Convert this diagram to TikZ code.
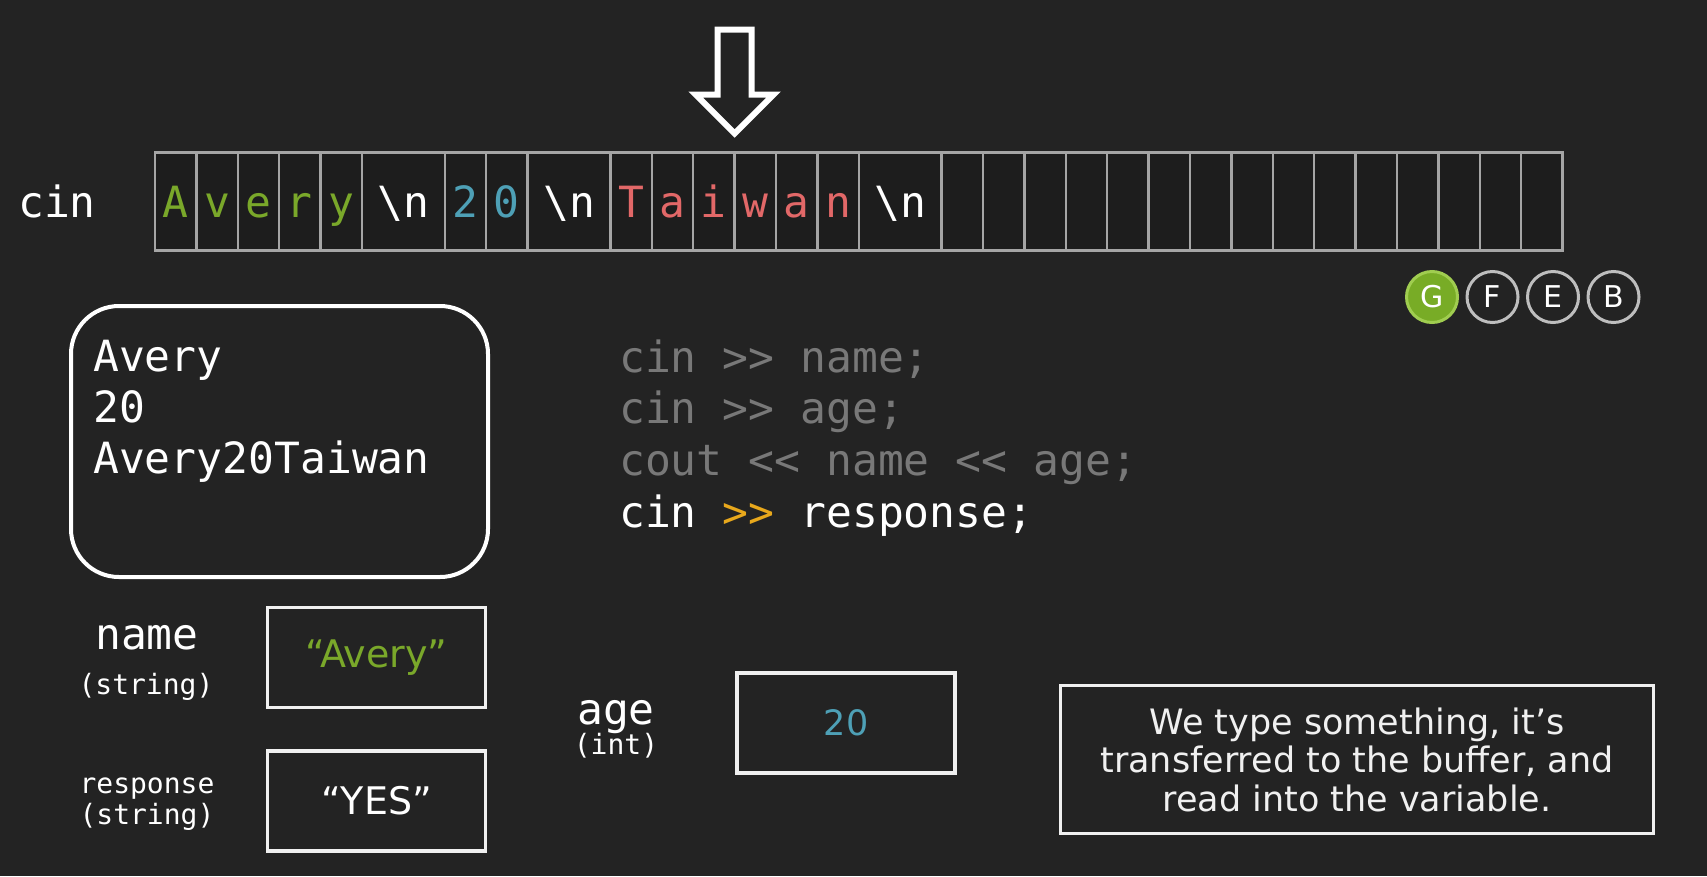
\documentclass[tikz,border=0pt]{standalone}
\usepackage{fontspec}
\usepackage{xcolor}
\usetikzlibrary{positioning}

\newfontfamily\codefont{DejaVu Sans Mono}
\newfontfamily\uifont{DejaVu Sans}
\newcommand{\bigmono}{\codefont\fontsize{43pt}{51pt}\selectfont}
\newcommand{\smallmono}{\codefont\fontsize{28pt}{30pt}\selectfont}
\newcommand{\boxsans}{\uifont\fontsize{38pt}{40pt}\selectfont}
\newcommand{\notesans}{\uifont\fontsize{35pt}{38.5pt}\selectfont}
\newcommand{\bsn}{\textbackslash n}

\definecolor{bg}{RGB}{35,35,35}
\definecolor{cellfill}{RGB}{29,29,29}
\definecolor{cellgray}{RGB}{165,165,165}
\definecolor{codegreen}{RGB}{122,168,42}
\definecolor{codeblue}{RGB}{78,160,182}
\definecolor{codered}{RGB}{226,104,104}
\definecolor{codegray}{RGB}{120,120,120}
\definecolor{arrowgold}{RGB}{232,168,28}
\definecolor{boxwhite}{RGB}{240,240,240}
\definecolor{badgegreen}{RGB}{120,172,38}
\definecolor{badgeedge}{RGB}{160,205,80}
\definecolor{badgegray}{RGB}{190,190,190}

\begin{document}
\begin{tikzpicture}[x=1pt, y=-1pt,
  cell/.style={draw=cellgray, fill=cellfill, line width=2.5pt, minimum width=41.4pt, minimum height=98pt, inner sep=0pt, outer sep=0pt, text height=32pt, text depth=0pt, font=\bigmono},
  varbox/.style={draw=boxwhite, line width=3.5pt, minimum width=218pt, minimum height=100pt, inner sep=0pt, font=\boxsans},
  mono/.style={inner sep=0pt, font=\bigmono, text=white},
  small/.style={inner sep=0pt, font=\smallmono, text=white},
  badge/.style={circle, draw=badgegray, line width=3pt, minimum size=51pt, inner sep=0pt, font=\uifont\fontsize{30pt}{30pt}\selectfont, text=white},
  node distance=6.5pt]
\fill[bg] (0,0) rectangle (1707,876);
\useasboundingbox (0,0) rectangle (1707,876);

% Buffer
\node[mono, anchor=base west] (cinlbl) at (18,217) {cin};
\coordinate (c0) at (155,201.5);
\foreach \w/\ch/\col [count=\i from 1, remember=\i as \j (initially 0)] in {1/A/codegreen, 1/v/codegreen, 1/e/codegreen, 1/r/codegreen, 1/y/codegreen, 2/\bsn/white, 1/2/codeblue, 1/0/codeblue, 2/\bsn/white, 1/T/codered, 1/a/codered, 1/i/codered, 1/w/codered, 1/a/codered, 1/n/codered, 2/\bsn/white}
  \node[cell, minimum width=\w*41.4pt, text=\col, right=0pt of c\j] (c\i) {\ch};
\foreach \i [remember=\i as \j (initially 16)] in {17,...,31}
  \node[cell, right=0pt of c\j] (c\i) {};

% Read position
\begin{scope}[shift={(c12.north east)}]
\draw[white, line width=6pt, line join=miter] (-17,-123) -- (17,-123) -- (17,-58) -- (39,-58) -- (0,-19) -- (-39,-58) -- (-17,-58) -- cycle;
\end{scope}

% Badges
\node[badge, fill=badgegreen, draw=badgeedge] (gbadge) at (1432,297) {G};
\node[badge] (fbadge) [right=of gbadge] {F};
\node[badge] (ebadge) [right=of fbadge] {E};
\node[badge] (bbadge) [right=of ebadge] {B};

% Console
\node[draw=white, line width=4pt, rounded corners=48pt, minimum width=417pt, minimum height=271pt, anchor=north west] (console) at (69,304) {};
\node[mono, anchor=base west] (out1) at (93,371) {Avery};
\node[mono, anchor=base west] (out2) at (93,422) {20};
\node[mono, anchor=base west] (out3) at (93,473) {Avery20Taiwan};

% Code
\foreach \txt [count=\i from 0] in {cin >{}> name;, cin >{}> age;, cout <{}< name <{}< age;}
  \node[mono, text=codegray, anchor=base west] (code\i) at (619,{372+51.7*\i}) {\txt};
\node[mono, anchor=base west] (code3) at (619,527) {cin \textcolor{arrowgold}{>{}>} response;};

% Variables
\node[small, font=\bigmono, anchor=base] (namelbl) at (147,649) {name};
\node[small, anchor=base] (nametype) at (146,694) {(string)};
\node[varbox, text=codegreen] (namebox) at (376.5,657.5) {“Avery”};

\node[small, anchor=base] (resplbl) at (147,793) {response};
\node[small, anchor=base] (resptype) at (147,824) {(string)};
\node[varbox, text=white] (respbox) [below=40pt of namebox] {“YES”};

\node[small, font=\bigmono, anchor=base] (agelbl) at (616,724) {age};
\node[small, anchor=base] (agetype) at (616,754) {(int)};
\node[varbox, text=codeblue, font=\uifont\fontsize{35pt}{40pt}\selectfont] (agebox) at (846,723) {20};

% Note
\node[draw=boxwhite, line width=3pt, minimum width=593pt, minimum height=148pt, text=boxwhite, align=center, font=\notesans] (note) at (1357,759.5) {We type something, it’s\\transferred to the buffer, and\\read into the variable.};
\end{tikzpicture}
\end{document}
